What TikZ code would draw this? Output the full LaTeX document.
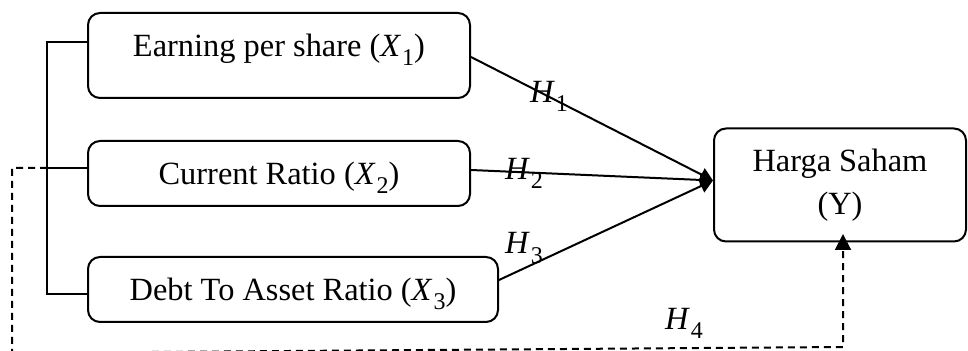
\documentclass[tikz,border=0pt]{standalone}
\usepackage{fontspec}
\setmainfont{Liberation Serif}
\usetikzlibrary{arrows.meta}
\newcommand{\vv}[2]{\textit{#1}\kern0.5pt\raisebox{-0.28em}{\fontsize{12}{12}\selectfont #2}}
\begin{document}
\begin{tikzpicture}[x=0.5pt,y=-0.5pt,
  every node/.style={font=\fontsize{16.2}{21.5}\selectfont},
  box/.style={draw,line width=1pt,rounded corners=6pt,inner sep=0pt},
  onebox/.style={box,text height=12pt,text depth=1.3pt},
  txt/.style={inner sep=0pt},
  conn/.style={line width=1pt},
  dconn/.style={line width=1pt,dash pattern=on 3.5pt off 2.5pt},
  hlab/.style={inner sep=0pt}]
\useasboundingbox (0,0) rectangle (968,351);
\node[box,minimum width=191pt,minimum height=42.5pt] (b1) at (279,55.5) {};
\node[txt] (t1) at (279,49.5) {Earning per share (\vv{X}{1})};
\node[onebox,minimum width=191pt,minimum height=32.5pt] (b2) at (279,173.5) {Current Ratio (\vv{X}{2})};
\node[onebox,minimum width=205pt,minimum height=32.5pt] (b3) at (293,289.5) {Debt To Asset Ratio (\vv{X}{3})};
\node[box,minimum width=126pt,minimum height=56.5pt,align=center] (y) at (840,185) {Harga Saham\\(Y)};
% converging arrows
\coordinate (tip) at (713,180.5);
\draw[conn,-{Triangle[length=6.5pt,width=7pt]}] ([yshift=-0.75pt]b1.east) -- (tip);
\draw[conn,-{Triangle[length=6.5pt,width=7pt]}] ([yshift=1.75pt]b2.east) -- (tip);
\draw[conn,-{Triangle[length=6.5pt,width=7pt]}] ([yshift=4.75pt]b3.east) -- (tip);
% bracket
\draw[conn] ([yshift=6.75pt]b1.west) -- ++(-20pt,0) |- ([yshift=-2.25pt]b3.west);
\draw[conn] ([yshift=2.75pt]b2.west) -- ++(-20pt,0) coordinate (j);
% dashed H4
\coordinate (h4tip) at ([xshift=1.5pt,yshift=4.25pt]y.south);
\draw[dconn,-{Triangle[length=8pt,width=8pt]}] (j) -- (12,168) -- (12,353) -- (843,347) -- (h4tip);
% labels
\node[hlab] (h1) at (549,96) {\vv{H}{1}};
\node[hlab] (h2) at (524,173) {\vv{H}{2}};
\node[hlab] (h3) at (524,248) {\vv{H}{3}};
\node[hlab] (h4) at (684,323) {\vv{H}{4}};
\end{tikzpicture}
\end{document}
